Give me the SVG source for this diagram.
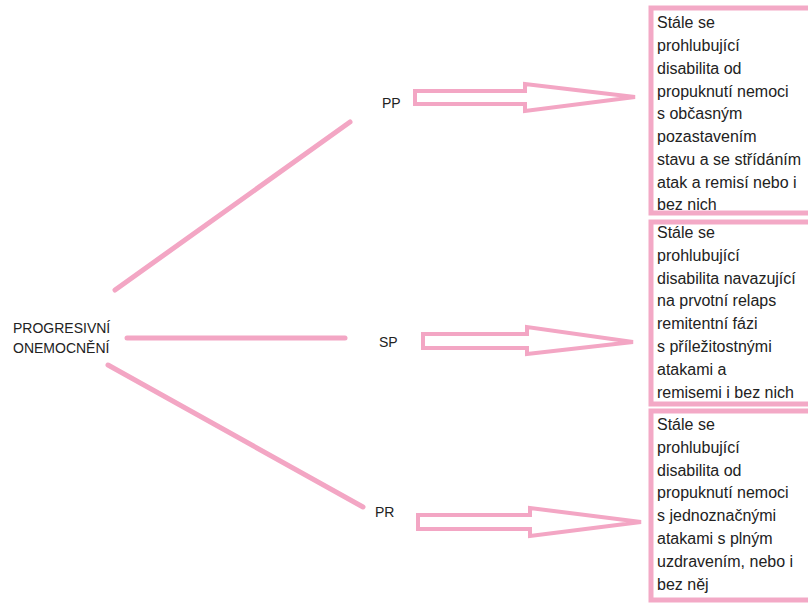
<svg xmlns="http://www.w3.org/2000/svg" width="808" height="603" viewBox="0 0 808 603">
<style>
.t{font-family:"Liberation Sans",Arial,sans-serif;font-size:16px;fill:#222}
.l{font-family:"Liberation Sans",Arial,sans-serif;font-size:14px;fill:#222}
.box{fill:#fff;stroke:#f3a9c6;stroke-width:5}
.ln{stroke:#f3a6c4;stroke-width:5;stroke-linecap:round;fill:none}
.ar{fill:#fff;stroke:#f3a6c4;stroke-width:4;stroke-linejoin:miter}
</style>
<rect width="808" height="603" fill="#fff"/>
<g id="connectors">
<line class="ln" x1="115" y1="290" x2="350" y2="122"/>
<line class="ln" x1="127" y1="338" x2="345" y2="338"/>
<line class="ln" x1="108" y1="365" x2="363" y2="507"/>
<polygon class="ar" points="415,91 525,91 525,84 635,97 525,111 525,104 415,104"/>
<polygon class="ar" points="423,334 527,334 527,327 633,342 527,354 527,348 423,348"/>
<polygon class="ar" points="418,515 530,515 530,508 641,522 530,536 530,529 418,529"/>
</g>
<g id="root">
<text class="l" x="13" y="333">PROGRESIVNÍ</text>
<text class="l" x="13" y="353">ONEMOCNĚNÍ</text>
</g>
<g id="pp"><text class="l" x="382" y="108">PP</text></g>
<g id="sp"><text class="l" x="379" y="347">SP</text></g>
<g id="pr"><text class="l" x="375" y="517">PR</text></g>
<g id="box-pp">
<rect class="box" x="651" y="8" width="170" height="205"/>
<text class="t" x="657" y="28">Stále se</text>
<text class="t" x="657" y="51">prohlubující</text>
<text class="t" x="657" y="74">disabilita od</text>
<text class="t" x="657" y="97">propuknutí nemoci</text>
<text class="t" x="657" y="119">s občasným</text>
<text class="t" x="657" y="142">pozastavením</text>
<text class="t" x="657" y="165">stavu a se střídáním</text>
<text class="t" x="657" y="188">atak a remisí nebo i</text>
<text class="t" x="657" y="210">bez nich</text>
</g>
<g id="box-sp">
<rect class="box" x="651" y="222" width="170" height="182"/>
<text class="t" x="657" y="238">Stále se</text>
<text class="t" x="657" y="261">prohlubující</text>
<text class="t" x="657" y="284">disabilita navazující</text>
<text class="t" x="657" y="306">na prvotní relaps</text>
<text class="t" x="657" y="329">remitentní fázi</text>
<text class="t" x="657" y="352">s příležitostnými</text>
<text class="t" x="657" y="375">atakami a</text>
<text class="t" x="657" y="398">remisemi i bez nich</text>
</g>
<g id="box-pr">
<rect class="box" x="651" y="411" width="170" height="189"/>
<text class="t" x="657" y="430">Stále se</text>
<text class="t" x="657" y="453">prohlubující</text>
<text class="t" x="657" y="476">disabilita od</text>
<text class="t" x="657" y="498">propuknutí nemoci</text>
<text class="t" x="657" y="521">s jednoznačnými</text>
<text class="t" x="657" y="544">atakami s plným</text>
<text class="t" x="657" y="567">uzdravením, nebo i</text>
<text class="t" x="657" y="590">bez něj</text>
</g>
</svg>
